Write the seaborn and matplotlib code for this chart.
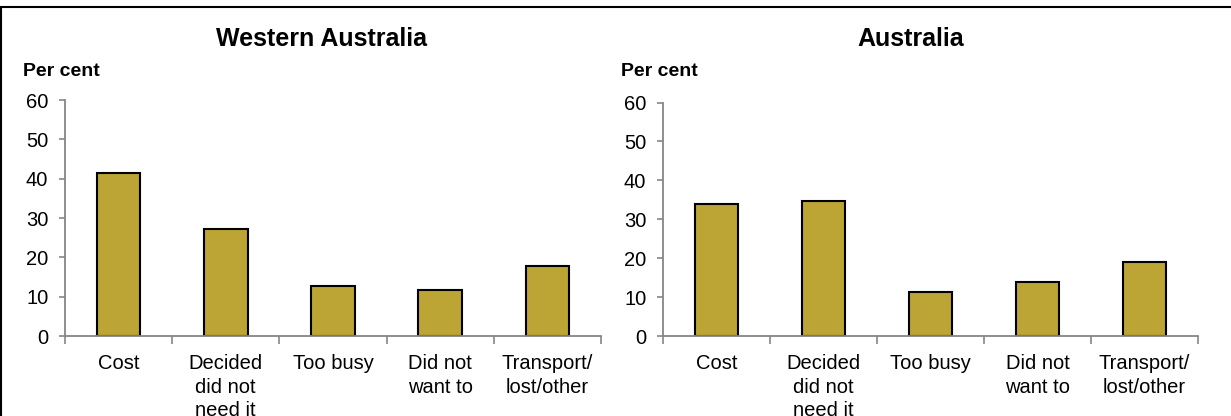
import numpy as np
import pandas as pd
import seaborn as sns
import matplotlib.pyplot as plt
from matplotlib.patches import Rectangle

# ===== Data =====
categories = ['Cost', 'Decided\ndid not\nneed it', 'Too busy', 'Did not\nwant to', 'Transport/\nlost/other']
wa_values = [41.5, 27.3, 12.6, 11.8, 17.9]
aus_values = [33.9, 34.6, 11.4, 13.8, 19.0]
panel_titles = ['Western Australia', 'Australia']
y_ticks = [0, 10, 20, 30, 40, 50, 60]

bar_color = '#BCA535'
axis_grey = '#868686'

sns.set_style('white')
plt.rcParams['font.family'] = ['Liberation Sans', 'DejaVu Sans']
plt.rcParams['text.color'] = 'black'
plt.rcParams['xtick.labelcolor'] = 'black'
plt.rcParams['ytick.labelcolor'] = 'black'

fig = plt.figure(figsize=(12.31, 4.16), dpi=100)
W, H = 1231, 416

# axes boxes in pixels: left, top(60), right, bottom(0)
boxes = [(65, 100, 601, 336), (663, 102.5, 1198, 336)]
title_x = [322, 911]
percent_x = [23, 621]


def plot_panel(ax, values):
    df = pd.DataFrame({'reason': categories, 'value': values})
    sns.barplot(data=df, x='reason', y='value', color=bar_color, saturation=1,
                edgecolor='black', linewidth=1.5, width=0.405, ax=ax)
    ax.set_xlim(-0.5, len(categories) - 0.5)
    ax.set_ylim(0, 60)
    ax.set_yticks(y_ticks)
    ax.set_xlabel('')
    ax.set_ylabel('')
    for side in ['top', 'right']:
        ax.spines[side].set_visible(False)
    for side in ['left', 'bottom']:
        ax.spines[side].set_color(axis_grey)
        ax.spines[side].set_linewidth(1.3)
    ax.tick_params(axis='y', length=4, color=axis_grey, width=1.2, labelsize=14.5,
                   direction='out', left=True, pad=8)
    ax.tick_params(axis='x', which='major', length=0, labelsize=14.5, pad=13)
    ax.set_xticks(np.arange(-0.5, len(categories)), minor=True)
    ax.tick_params(axis='x', which='minor', length=6, color=axis_grey, width=1.2,
                   direction='out', bottom=True)
    for lab in ax.get_xticklabels():
        lab.set_linespacing(1.3)


for i, values in enumerate([wa_values, aus_values]):
    l, t, r, b = boxes[i]
    ax = fig.add_axes([l / W, 1 - b / H, (r - l) / W, (b - t) / H])
    plot_panel(ax, values)
    fig.text(title_x[i] / W, 1 - 39 / H, panel_titles[i], ha='center', va='center',
             fontsize=18, fontweight='bold')
    fig.text(percent_x[i] / W, 1 - 72 / H, 'Per cent', ha='left', va='center',
             fontsize=14, fontweight='bold')

# outer frame: only top and left edges fall inside the picture
fig.patches.append(Rectangle((0.5 / W, -0.05), 1.1, 1 - 7 / H + 0.05,
                             transform=fig.transFigure, fill=False,
                             edgecolor='black', linewidth=1.5))

fig.savefig('out.png', dpi=100)
